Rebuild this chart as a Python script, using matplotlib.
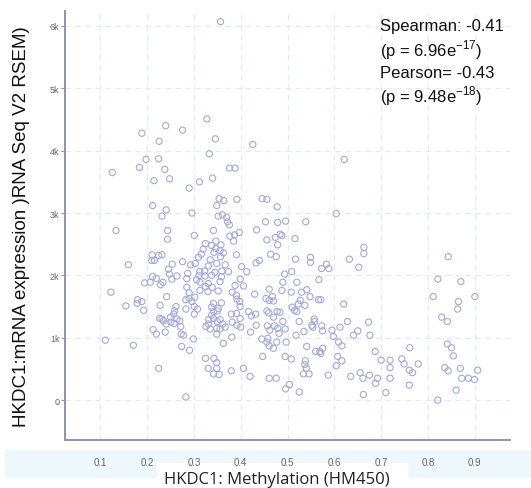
import numpy as np
import matplotlib
matplotlib.use('Agg')
import matplotlib.pyplot as plt
from matplotlib.patches import Rectangle

# methylation (HM450) beta values
methylation = [
    0.357, 0.328, 0.240, 0.276, 0.189, 0.346, 0.226, 0.426, 0.198, 0.225,
    0.333, 0.621, 0.184, 0.238, 0.376, 0.388, 0.126, 0.248, 0.340, 0.215,
    0.312, 0.290, 0.446, 0.456, 0.392, 0.354, 0.364, 0.212, 0.349, 0.478,
    0.241, 0.296, 0.604, 0.232, 0.352, 0.361, 0.370, 0.372, 0.134, 0.244,
    0.342, 0.376, 0.453, 0.479, 0.496, 0.539, 0.434, 0.397, 0.387, 0.377,
    0.484, 0.488, 0.474, 0.456, 0.516, 0.301, 0.244, 0.347, 0.385, 0.325,
    0.338, 0.358, 0.479, 0.663, 0.663, 0.320, 0.347, 0.356, 0.363, 0.316,
    0.343, 0.464, 0.476, 0.391, 0.357, 0.232, 0.211, 0.225, 0.310, 0.843,
    0.335, 0.517, 0.549, 0.549, 0.632, 0.652, 0.573, 0.588, 0.583, 0.440,
    0.433, 0.210, 0.216, 0.276, 0.160, 0.254, 0.293, 0.303, 0.331, 0.349,
    0.367, 0.402, 0.413, 0.246, 0.248, 0.264, 0.287, 0.313, 0.323, 0.345,
    0.360, 0.374, 0.311, 0.324, 0.338, 0.359, 0.494, 0.509, 0.212, 0.220,
    0.195, 0.207, 0.234, 0.253, 0.285, 0.399, 0.306, 0.313, 0.331, 0.356,
    0.490, 0.520, 0.567, 0.821, 0.870, 0.229, 0.388, 0.406, 0.285, 0.325,
    0.339, 0.313, 0.330, 0.352, 0.461, 0.488, 0.541, 0.508, 0.382, 0.123,
    0.290, 0.430, 0.391, 0.530, 0.242, 0.468, 0.811, 0.900, 0.302, 0.454,
    0.290, 0.392, 0.548, 0.566, 0.571, 0.180, 0.189, 0.461, 0.470, 0.283,
    0.296, 0.398, 0.527, 0.523, 0.865, 0.179, 0.342, 0.359, 0.620, 0.155,
    0.228, 0.262, 0.301, 0.399, 0.537, 0.338, 0.352, 0.510, 0.350, 0.456,
    0.863, 0.193, 0.259, 0.283, 0.308, 0.342, 0.515, 0.520, 0.257, 0.417,
    0.478, 0.484, 0.460, 0.301, 0.338, 0.380, 0.391, 0.432, 0.423, 0.250,
    0.264, 0.342, 0.470, 0.399, 0.227, 0.232, 0.332, 0.356, 0.829, 0.235,
    0.270, 0.557, 0.350, 0.382, 0.490, 0.258, 0.525, 0.558, 0.841, 0.628,
    0.673, 0.241, 0.251, 0.331, 0.362, 0.392, 0.433, 0.457, 0.472, 0.552,
    0.573, 0.554, 0.272, 0.326, 0.349, 0.367, 0.400, 0.612, 0.335, 0.356,
    0.479, 0.495, 0.462, 0.213, 0.575, 0.595, 0.421, 0.535, 0.650, 0.239,
    0.273, 0.220, 0.349, 0.482, 0.518, 0.598, 0.641, 0.676, 0.278, 0.381,
    0.458, 0.445, 0.111, 0.299, 0.363, 0.456, 0.477, 0.497, 0.609, 0.616,
    0.841, 0.171, 0.461, 0.541, 0.850, 0.761, 0.274, 0.470, 0.575, 0.291,
    0.560, 0.569, 0.687, 0.571, 0.854, 0.447, 0.495, 0.508, 0.325, 0.343,
    0.607, 0.616, 0.700, 0.719, 0.744, 0.538, 0.349, 0.749, 0.779, 0.537,
    0.760, 0.767, 0.719, 0.604, 0.225, 0.331, 0.349, 0.406, 0.540, 0.836,
    0.843, 0.869, 0.906, 0.380, 0.655, 0.342, 0.354, 0.534, 0.546, 0.587,
    0.635, 0.675, 0.420, 0.692, 0.719, 0.661, 0.461, 0.476, 0.872, 0.886,
    0.899, 0.688, 0.504, 0.760, 0.496, 0.525, 0.710, 0.860, 0.662, 0.283,
    0.821,
]

# mRNA expression (RNA Seq V2 RSEM), in thousands
expression_k = [
    6.07, 4.51, 4.40, 4.33, 4.28, 4.19, 4.15, 4.10, 3.86, 3.87,
    3.95, 3.86, 3.73, 3.70, 3.72, 3.72, 3.65, 3.55, 3.56, 3.52,
    3.50, 3.40, 3.23, 3.22, 3.22, 3.23, 3.20, 3.12, 3.12, 3.10,
    3.05, 3.00, 2.99, 2.95, 2.95, 2.97, 2.93, 2.86, 2.72, 2.72,
    2.72, 2.81, 2.86, 2.85, 2.87, 2.86, 2.73, 2.69, 2.65, 2.63,
    2.66, 2.64, 2.61, 2.57, 2.59, 2.64, 2.58, 2.55, 2.55, 2.51,
    2.48, 2.49, 2.49, 2.45, 2.35, 2.42, 2.43, 2.40, 2.36, 2.34,
    2.37, 2.34, 2.30, 2.33, 2.30, 2.33, 2.33, 2.32, 2.29, 2.30,
    2.25, 2.26, 2.29, 2.21, 2.26, 2.13, 2.11, 2.11, 2.18, 2.24,
    2.20, 2.24, 2.24, 2.22, 2.17, 2.18, 2.17, 2.19, 2.15, 2.19,
    2.17, 2.14, 2.06, 2.10, 2.02, 1.99, 2.03, 2.06, 2.07, 2.05,
    2.07, 2.06, 2.00, 1.99, 2.00, 1.98, 2.02, 2.06, 1.98, 1.95,
    1.88, 1.89, 1.89, 1.94, 1.95, 1.94, 1.93, 1.89, 1.87, 1.90,
    1.89, 1.89, 1.93, 1.94, 1.90, 1.85, 1.84, 1.83, 1.81, 1.82,
    1.81, 1.76, 1.74, 1.75, 1.78, 1.76, 1.77, 1.73, 1.73, 1.73,
    1.72, 1.70, 1.68, 1.73, 1.66, 1.66, 1.66, 1.66, 1.65, 1.63,
    1.63, 1.62, 1.66, 1.61, 1.61, 1.61, 1.58, 1.60, 1.59, 1.61,
    1.58, 1.58, 1.60, 1.54, 1.58, 1.55, 1.55, 1.56, 1.54, 1.51,
    1.52, 1.50, 1.50, 1.50, 1.52, 1.49, 1.47, 1.49, 1.43, 1.43,
    1.46, 1.44, 1.43, 1.46, 1.46, 1.42, 1.44, 1.42, 1.38, 1.42,
    1.42, 1.41, 1.40, 1.38, 1.36, 1.38, 1.39, 1.38, 1.35, 1.33,
    1.30, 1.31, 1.33, 1.31, 1.31, 1.30, 1.29, 1.29, 1.33, 1.27,
    1.27, 1.30, 1.26, 1.25, 1.26, 1.23, 1.26, 1.26, 1.26, 1.26,
    1.25, 1.22, 1.25, 1.22, 1.22, 1.20, 1.20, 1.19, 1.19, 1.20,
    1.19, 1.17, 1.18, 1.18, 1.15, 1.17, 1.17, 1.17, 1.14, 1.14,
    1.15, 1.14, 1.12, 1.13, 1.11, 1.12, 1.09, 1.10, 1.11, 1.09,
    1.06, 1.06, 1.06, 1.07, 1.04, 1.02, 1.04, 1.04, 1.04, 1.01,
    0.99, 0.98, 0.96, 0.98, 0.91, 0.93, 0.93, 0.93, 0.93, 0.87,
    0.90, 0.88, 0.87, 0.86, 0.84, 0.84, 0.86, 0.83, 0.83, 0.80,
    0.78, 0.78, 0.78, 0.75, 0.71, 0.70, 0.70, 0.66, 0.67, 0.67,
    0.70, 0.63, 0.64, 0.64, 0.66, 0.63, 0.60, 0.58, 0.58, 0.57,
    0.48, 0.44, 0.52, 0.55, 0.51, 0.51, 0.51, 0.51, 0.51, 0.52,
    0.47, 0.51, 0.48, 0.47, 0.44, 0.42, 0.41, 0.42, 0.42, 0.40,
    0.38, 0.40, 0.38, 0.35, 0.35, 0.35, 0.35, 0.35, 0.35, 0.35,
    0.33, 0.27, 0.25, 0.24, 0.18, 0.13, 0.12, 0.16, 0.09, 0.05,
    0.00,
]

x_ticks = [0.1, 0.2, 0.3, 0.4, 0.5, 0.6, 0.7, 0.8, 0.9]
y_ticks_k = [0, 1, 2, 3, 4, 5, 6]
y_tick_labels = ['0', '1k', '2k', '3k', '4k', '5k', '6k']

stats_lines = [
    'Spearman: -0.41',
    r'(p = 6.96e$^{\mathregular{-17}}$)',
    'Pearson= -0.43',
    r'(p = 9.48e$^{\mathregular{-18}}$)',
]

plt.rcParams['font.family'] = ['Liberation Sans', 'DejaVu Sans']

x = np.array(methylation)
y = np.array(expression_k) * 1000

fig = plt.figure(figsize=(5.31, 4.89), dpi=100)
fig.patch.set_facecolor('white')

# pale band at the bottom, with a white box behind the x label
fig.patches.append(Rectangle((5 / 531, 11 / 489), 526 / 531, 27 / 489,
                             transform=fig.transFigure, color='#eef8fc', zorder=-2))
fig.patches.append(Rectangle((157 / 531, 0), 250 / 531, 25 / 489,
                             transform=fig.transFigure, color='white', zorder=-1))

ax = fig.add_axes([65 / 531, 48 / 489, 445 / 531, 429 / 489])
ax.set_facecolor('none')

ax.scatter(x, y, s=20, facecolors='none', edgecolors='#a3aad8', linewidths=0.8, zorder=3)

ax.set_xlim(0.025, 0.975)
ax.set_ylim(-640, 6240)
ax.set_xticks(x_ticks)
ax.set_xticklabels([str(t) for t in x_ticks])
ax.set_yticks([v * 1000 for v in y_ticks_k])
ax.set_yticklabels(y_tick_labels)

ax.grid(True, color='#e2eaf7', linestyle=(0, (5, 4)), linewidth=0.8, zorder=0)
for side in ['top', 'right']:
    ax.spines[side].set_visible(False)
for side in ['left', 'bottom']:
    ax.spines[side].set_color('#8e92b2')
    ax.spines[side].set_linewidth(1.4)
ax.tick_params(axis='y', length=3, color='#8e92b2', labelsize=6.5, labelcolor='#666666', pad=1)
ax.tick_params(axis='x', length=0, labelsize=7, labelcolor='#666666', pad=12)

ax.set_ylabel('HKDC1:mRNA expression )RNA Seq V2 RSEM)', fontsize=13.5, color='#111111', labelpad=14)
fig.text(277 / 531, 9 / 489, 'HKDC1: Methylation (HM450)', ha='center', va='center',
         fontsize=12, color='#222222', family=['Open Sans', 'DejaVu Sans'])

for i, line in enumerate(stats_lines):
    fig.text(380 / 531, 1 - (27 + 23 * i) / 489, line, ha='left', va='center',
             fontsize=12, color='#111111')

fig.savefig('out.png', dpi=100)
